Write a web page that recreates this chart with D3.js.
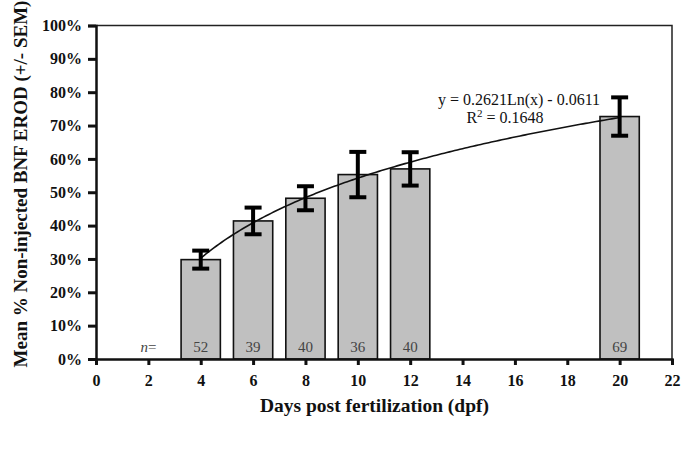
<!DOCTYPE html>
<html><head><meta charset="utf-8">
<script src="https://cdn.jsdelivr.net/npm/d3@7"></script>
<style>body{margin:0;background:#fff;overflow:hidden}svg{display:block}</style>
</head><body>
<script>
const days = [4, 6, 8, 10, 12, 20];
const means = [29.8, 41.4, 48.2, 55.3, 57.0, 72.7];
const sems = [2.7, 4.0, 3.6, 6.8, 5.0, 5.75];
const nCounts = ["52", "39", "40", "36", "40", "69"];
const xTicks = [0, 2, 4, 6, 8, 10, 12, 14, 16, 18, 20, 22];
const yTicks = [0, 10, 20, 30, 40, 50, 60, 70, 80, 90, 100];
const trendCoef = [0.2621, -0.0611];
const trendRange = [4, 20];

const W = 694, H = 452;
const svg = d3.select("body").append("svg").attr("width", W).attr("height", H);
const serif = "'Liberation Serif','Times New Roman',serif";

const x = d3.scaleLinear().domain([0, 22]).range([96, 672]);
const y = d3.scaleLinear().domain([0, 100]).range([359, 25.5]);
const barHalf = 0.75;

// frame (top & right)
svg.append("path")
  .attr("d", `M${x(0)},${y(100)}H${x(22)}V${y(0)}`)
  .attr("fill", "none").attr("stroke", "#222").attr("stroke-width", 1.5);

// bars
svg.selectAll("rect.bar").data(days).join("rect")
  .attr("class", "bar")
  .attr("x", (d) => x(d - barHalf))
  .attr("width", (d) => x(d + barHalf) - x(d - barHalf))
  .attr("y", (d, i) => y(means[i]))
  .attr("height", (d, i) => y(0) - y(means[i]))
  .attr("fill", "#c0c0c0").attr("stroke", "#111").attr("stroke-width", 1.6);

// n labels
svg.append("text").attr("x", x(2)).attr("y", 352)
  .attr("text-anchor", "middle").attr("font-family", serif)
  .attr("font-size", 15).attr("fill", "#444")
  .html('<tspan font-style="italic">n</tspan>=');
svg.selectAll("text.n").data(days).join("text")
  .attr("class", "n")
  .attr("x", (d) => x(d)).attr("y", 352)
  .attr("text-anchor", "middle").attr("font-family", serif)
  .attr("font-size", 15).attr("fill", "#444")
  .text((d, i) => nCounts[i]);

// y axis
const yAxis = svg.append("g").attr("transform", `translate(${x(0)},0)`)
  .call(d3.axisLeft(y).tickValues(yTicks).tickSize(8).tickPadding(6).tickFormat((d) => d + "%"));
yAxis.select(".domain").attr("stroke", "#111").attr("stroke-width", 2.5);
yAxis.selectAll(".tick line").attr("stroke", "#111").attr("stroke-width", 3);
yAxis.selectAll(".tick text").attr("font-family", serif).attr("font-size", 16)
  .attr("font-weight", "bold").attr("fill", "#111");

// x axis
const xAxis = svg.append("g").attr("transform", `translate(0,${y(0)})`)
  .call(d3.axisBottom(x).tickValues(xTicks).tickSize(6).tickPadding(10).tickFormat(d3.format("d")));
xAxis.select(".domain").attr("stroke", "#111").attr("stroke-width", 2.5);
xAxis.selectAll(".tick line").attr("stroke", "#111").attr("stroke-width", 3);
xAxis.selectAll(".tick text").attr("font-family", serif).attr("font-size", 16)
  .attr("font-weight", "bold").attr("fill", "#111");

// trend line
const trendX = d3.range(trendRange[0], trendRange[1] + 0.001, 0.1);
const line = d3.line().x((d) => x(d)).y((d) => y(100 * (trendCoef[0] * Math.log(d) + trendCoef[1])));
svg.append("path").datum(trendX).attr("d", line)
  .attr("fill", "none").attr("stroke", "#111").attr("stroke-width", 1.6);

// error bars
const eb = svg.selectAll("g.err").data(days).join("g").attr("class", "err")
  .attr("stroke", "#000").attr("stroke-width", 4);
eb.append("line").attr("x1", (d) => x(d)).attr("x2", (d) => x(d))
  .attr("y1", (d, i) => y(means[i] + sems[i])).attr("y2", (d, i) => y(means[i] - sems[i]));
eb.append("line").attr("x1", (d) => x(d) - 8.5).attr("x2", (d) => x(d) + 8.5)
  .attr("y1", (d, i) => y(means[i] + sems[i])).attr("y2", (d, i) => y(means[i] + sems[i]));
eb.append("line").attr("x1", (d) => x(d) - 8.5).attr("x2", (d) => x(d) + 8.5)
  .attr("y1", (d, i) => y(means[i] - sems[i])).attr("y2", (d, i) => y(means[i] - sems[i]));

// equation
svg.append("text").attr("x", 519).attr("y", 105).attr("text-anchor", "middle")
  .attr("font-family", serif).attr("font-size", 16).attr("fill", "#111")
  .text("y = 0.2621Ln(x) - 0.0611");
svg.append("text").attr("x", 505).attr("y", 123).attr("text-anchor", "middle")
  .attr("font-family", serif).attr("font-size", 16).attr("fill", "#111")
  .html('R<tspan dy="-6" font-size="11">2</tspan><tspan dy="6"> = 0.1648</tspan>');

// axis titles
svg.append("text").attr("x", 374.5).attr("y", 412).attr("text-anchor", "middle")
  .attr("font-family", serif).attr("font-size", 19.5).attr("font-weight", "bold").attr("fill", "#111")
  .text("Days post fertilization (dpf)");
svg.append("text").attr("transform", "translate(27,184) rotate(-90)").attr("text-anchor", "middle")
  .attr("font-family", serif).attr("font-size", 19).attr("font-weight", "bold").attr("fill", "#111")
  .text("Mean % Non-injected BNF EROD (+/- SEM)");
</script>
</body></html>
